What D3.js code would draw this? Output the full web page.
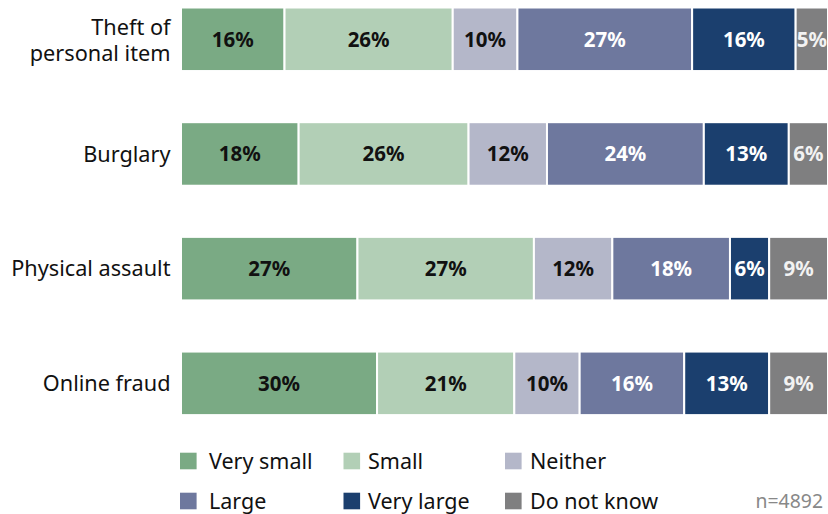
<!DOCTYPE html>
<html>
<head>
<meta charset="utf-8">
<script src="https://cdn.jsdelivr.net/npm/d3@7"></script>
<style>
  html, body { margin: 0; padding: 0; background: #fff; }
  svg { display: block; font-family: "Noto Sans", "Open Sans", sans-serif; }
</style>
</head>
<body>
<svg id="chart" width="828" height="514"></svg>
<script>
// Perceived risk by crime type (percent of respondents)
const categories = ["Theft of\npersonal item", "Burglary", "Physical assault", "Online fraud"];
const seriesNames = ["Very small", "Small", "Neither", "Large", "Very large", "Do not know"];
const verySmall = [16, 18, 27, 30];
const small     = [26, 26, 27, 21];
const neither   = [10, 12, 12, 10];
const large     = [27, 24, 18, 16];
const veryLarge = [16, 13, 6, 13];
const doNotKnow = [5, 6, 9, 9];
const sampleNote = "n=4892";

const colors = ["#7aaa84", "#b2cfb6", "#b4b7c9", "#6e789e", "#1b3f6e", "#7f7f80"];
const labelColors = ["#111", "#111", "#111", "#fff", "#fff", "#f2f2f2"];

const seriesValues = [verySmall, small, neither, large, veryLarge, doNotKnow];

const svg = d3.select("#chart");
const plotLeft = 181, plotRight = 828, plotTop = 7.5, plotBottom = 415.1;

const y = d3.scaleBand()
  .domain(categories)
  .range([plotTop, plotBottom])
  .paddingInner(0.446)
  .paddingOuter(0);

const x = d3.scaleLinear().domain([0, 1]).range([plotLeft, plotRight]);

// Each row is normalised to its own total so bars fill the full width
const rows = categories.map((c, i) => {
  const vals = seriesValues.map(s => s[i]);
  const total = d3.sum(vals);
  let acc = 0;
  const segs = vals.map((v, j) => {
    const s = { cat: c, series: j, value: v, x0: acc / total, x1: (acc + v) / total };
    acc += v;
    return s;
  });
  return { cat: c, segs };
});

const g = svg.append("g");
rows.forEach(row => {
  const rg = g.append("g");
  rg.selectAll("rect")
    .data(row.segs)
    .join("rect")
    .attr("x", d => x(d.x0))
    .attr("y", y(row.cat))
    .attr("width", d => x(d.x1) - x(d.x0))
    .attr("height", y.bandwidth())
    .attr("fill", d => colors[d.series])
    .attr("stroke", "#fff")
    .attr("stroke-width", 2);

  rg.selectAll("text")
    .data(row.segs)
    .join("text")
    .attr("x", d => (x(d.x0) + x(d.x1)) / 2)
    .attr("y", y(row.cat) + y.bandwidth() / 2)
    .attr("dy", "0.36em")
    .attr("text-anchor", "middle")
    .attr("font-size", 20.5)
    .attr("font-weight", "bold")
    .attr("fill", d => labelColors[d.series])
    .text(d => d.value + "%");

  // category label
  const lines = row.cat.split("\n");
  const lab = g.append("text")
    .attr("text-anchor", "end")
    .attr("font-size", 21.7)
    .attr("fill", "#111");
  lines.forEach((ln, k) => {
    lab.append("tspan")
      .attr("x", 170.5)
      .attr("y", y(row.cat) + y.bandwidth() / 2 + (k - (lines.length - 1) / 2) * 26.5 + (lines.length > 1 ? 1 : 0))
      .attr("dy", "0.35em")
      .text(ln);
  });
});

// Legend: three columns, two rows
const legSwatchX = [180, 343.5, 505];
const legTextX = [209, 368, 530];
const legY = [461, 501];
const leg = svg.append("g");
seriesNames.forEach((name, i) => {
  const col = i % 3, ly = legY[Math.floor(i / 3)];
  leg.append("rect")
    .attr("x", legSwatchX[col]).attr("y", ly - 8.3)
    .attr("width", 16.6).attr("height", 16.6)
    .attr("fill", colors[i]);
  leg.append("text")
    .attr("x", legTextX[col]).attr("y", ly)
    .attr("dy", "0.35em")
    .attr("font-size", 21.5)
    .attr("fill", "#111")
    .text(name);
});

svg.append("text")
  .attr("x", 823).attr("y", 501)
  .attr("dy", "0.35em")
  .attr("text-anchor", "end")
  .attr("font-size", 19.4)
  .attr("fill", "#888")
  .text(sampleNote);
</script>
</body>
</html>
